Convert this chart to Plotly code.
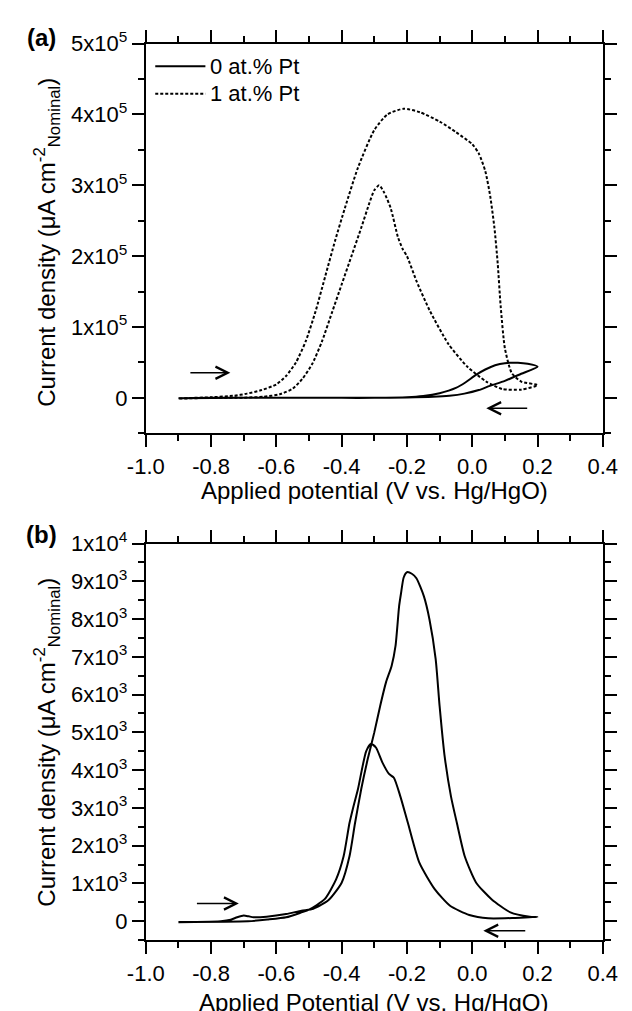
import plotly.graph_objects as go

# ---------------- Data ----------------
# Panel (a): 0 at.% Pt (solid) – one closed CV loop
a_pt0_v = [-0.9, -0.8, -0.6, -0.4, -0.3, -0.2, -0.15, -0.1, -0.05, -0.02, 0.01, 0.04, 0.07, 0.1, 0.14, 0.17, 0.2,
           0.15, 0.1, 0.054, 0.02, -0.024, -0.07, -0.12, -0.2, -0.3, -0.5, -0.7, -0.9]
a_pt0_j = [-500, 0, 0, 0, 0, 800, 2500, 6500, 14000, 22000, 32000, 40000, 46000, 49000, 49500, 48000, 44000,
           34000, 24000, 17000, 11000, 6000, 3000, 1400, 400, 0, 0, 0, -500]

# Panel (a): 1 at.% Pt (dotted) – forward + reverse scans
a_pt1_v = [-0.9, -0.85, -0.8, -0.73, -0.69, -0.645, -0.6, -0.57, -0.54, -0.51, -0.48, -0.45, -0.42, -0.39,
           -0.35, -0.3, -0.26, -0.21, -0.16, -0.1, -0.05, 0.0, 0.02, 0.04, 0.055, 0.068, 0.078, 0.087, 0.1,
           0.121, 0.15, 0.2,
           0.15, 0.092, 0.043, -0.015, -0.073, -0.13, -0.17, -0.2, -0.213, -0.227, -0.25, -0.27, -0.285,
           -0.3, -0.315, -0.34, -0.37, -0.4, -0.43, -0.46, -0.49, -0.52, -0.55, -0.59, -0.64, -0.7, -0.8, -0.9]
a_pt1_j = [-1000, 0, 800, 3000, 6000, 11000, 19000, 31000, 50000, 80000, 122000, 172000, 222000, 268000,
           325000, 378000, 400000, 408000, 403000, 390000, 375000, 358000, 345000, 320000, 285000, 240000,
           190000, 130000, 70000, 35000, 23000, 18000,
           11600, 12500, 23000, 44000, 76000, 123000, 164000, 200000, 210000, 226000, 268000, 290000, 300000,
           293000, 275000, 240000, 200000, 160000, 120000, 80000, 48000, 27000, 13000, 5000, 1500, 300, 0, -1000]

# Panel (b): single CV loop (forward then reverse)
b_v = [-0.9, -0.85, -0.77, -0.74, -0.72, -0.70, -0.685, -0.67, -0.63, -0.57, -0.523, -0.487, -0.44, -0.4,
       -0.376, -0.359, -0.34, -0.32, -0.30, -0.282, -0.264, -0.247, -0.235, -0.224, -0.218, -0.21, -0.2,
       -0.185, -0.171, -0.148, -0.131, -0.112, -0.1, -0.085, -0.065, -0.047, -0.023, 0.012, 0.059, 0.117,
       0.176, 0.2,
       0.131, 0.049, -0.009, -0.068, -0.115, -0.162, -0.197, -0.22, -0.24, -0.255, -0.275, -0.295, -0.31,
       -0.325, -0.35, -0.365, -0.376, -0.394, -0.417, -0.452, -0.5, -0.523, -0.57, -0.628, -0.687, -0.9]
b_j = [-25, -20, 0, 40, 105, 150, 130, 105, 120, 190, 280, 330, 560, 1020,
       1720, 2600, 3500, 4300, 5000, 5700, 6330, 6760, 7290, 8340, 8690, 9100, 9240,
       9200, 9080, 8600, 7990, 6940, 5700, 4400, 3300, 2600, 1720, 1020, 585, 236,
       122, 110,
       87, 79, 166, 410, 850, 1550, 2600, 3300, 3800, 3900, 4200, 4600, 4700,
       4500, 3500, 3000, 2600, 1720, 1110, 585, 305, 235, 105, 45, 0, -20]

x_ticks = [-1.0, -0.8, -0.6, -0.4, -0.2, 0.0, 0.2, 0.4]
x_ticktext = ["-1.0", "-0.8", "-0.6", "-0.4", "-0.2", "0.0", "0.2", "0.4"]
a_yticks = [0, 100000, 200000, 300000, 400000, 500000]
a_ytext = ["0", "1x10<sup>5</sup>", "2x10<sup>5</sup>", "3x10<sup>5</sup>", "4x10<sup>5</sup>", "5x10<sup>5</sup>"]
b_yticks = [0, 1000, 2000, 3000, 4000, 5000, 6000, 7000, 8000, 9000, 10000]
b_ytext = ["0", "1x10<sup>3</sup>", "2x10<sup>3</sup>", "3x10<sup>3</sup>", "4x10<sup>3</sup>",
           "5x10<sup>3</sup>", "6x10<sup>3</sup>", "7x10<sup>3</sup>", "8x10<sup>3</sup>",
           "9x10<sup>3</sup>", "1x10<sup>4</sup>"]

legend_names = ["0 at.% Pt", "1 at.% Pt"]

# ---------------- Figure ----------------
W, H = 632, 1011
FONT = "Liberation Sans, Arial, sans-serif"

fig = go.Figure()
fig.add_trace(go.Scatter(x=a_pt0_v, y=a_pt0_j, mode="lines",
                         line=dict(color="black", width=2, shape="spline", smoothing=0.6),
                         name=legend_names[0], xaxis="x", yaxis="y"))
fig.add_trace(go.Scatter(x=a_pt1_v, y=a_pt1_j, mode="lines",
                         line=dict(color="black", width=2, dash="3px,2px", shape="spline", smoothing=0.6),
                         name=legend_names[1], xaxis="x", yaxis="y"))
fig.add_trace(go.Scatter(x=b_v, y=b_j, mode="lines",
                         line=dict(color="black", width=2, shape="spline", smoothing=0.6),
                         xaxis="x2", yaxis="y2"))


def px_x(p):
    return p / W


def px_y(p):
    return 1 - p / H


xdom = [px_x(134), px_x(617)]
a_ydom = [px_y(424), px_y(28)]
b_ydom = [px_y(939), px_y(536)]

common_x = dict(range=[-1.0000001, 0.4000001], tickvals=x_ticks, ticktext=x_ticktext, showgrid=False,
                zeroline=False, showline=True, linecolor="black", linewidth=2, mirror="ticks",
                ticks="outside", ticklen=12, tickwidth=2, tickcolor="black", ticklabeloverflow="allow",
                minor=dict(dtick=0.1, tick0=-1.0, ticks="outside", ticklen=6, tickwidth=2, tickcolor="black",
                           showgrid=False),
                tickfont=dict(family=FONT, size=22, color="black"), domain=xdom)
common_y = dict(showgrid=False, zeroline=False, showline=True, linecolor="black", linewidth=2,
                mirror="ticks", ticks="outside", ticklen=12, tickwidth=2, tickcolor="black",
                ticklabeloverflow="allow",
                tickfont=dict(family=FONT, size=22, color="black"))

fig.update_layout(
    width=W, height=H, margin=dict(l=0, r=0, t=0, b=0),
    paper_bgcolor="white", plot_bgcolor="white", showlegend=False,
    font=dict(family=FONT, color="black"),
    xaxis=dict(**common_x, anchor="y"),
    yaxis=dict(**common_y, range=[-50000, 500000], tickvals=a_yticks, ticktext=a_ytext, domain=a_ydom,
               anchor="x",
               minor=dict(dtick=50000, tick0=0, ticks="outside", ticklen=6, tickwidth=2, tickcolor="black",
                          showgrid=False)),
    xaxis2=dict(**common_x, anchor="y2"),
    yaxis2=dict(**common_y, range=[-500, 10000], tickvals=b_yticks, ticktext=b_ytext, domain=b_ydom,
                anchor="x2",
                minor=dict(dtick=500, tick0=0, ticks="outside", ticklen=6, tickwidth=2, tickcolor="black",
                           showgrid=False)),
)

# Axis titles as annotations
ytitle = "Current density (\u03bcA cm<sup>-2</sup><sub>Nominal</sub>)"
fig.add_annotation(text=ytitle, xref="paper", yref="paper", x=px_x(30), y=px_y(230), textangle=-90,
                   showarrow=False, font=dict(family=FONT, size=24), xanchor="center", yanchor="middle")
fig.add_annotation(text=ytitle, xref="paper", yref="paper", x=px_x(30), y=px_y(738), textangle=-90,
                   showarrow=False, font=dict(family=FONT, size=24), xanchor="center", yanchor="middle")
fig.add_annotation(text="Applied potential (V vs. Hg/HgO)", xref="x domain", yref="paper", x=0.5,
                   y=px_y(482), showarrow=False, font=dict(family=FONT, size=24), yanchor="middle")
fig.add_annotation(text="Applied Potential (V vs. Hg/HgO)", xref="x2 domain", yref="paper", x=0.5,
                   y=px_y(1002), showarrow=False, font=dict(family=FONT, size=24), yanchor="middle")

# Panel labels
fig.add_annotation(text="<b>(a)</b>", xref="paper", yref="paper", x=px_x(24), y=px_y(22), showarrow=False,
                   font=dict(family=FONT, size=24), xanchor="center", yanchor="middle")
fig.add_annotation(text="<b>(b)</b>", xref="paper", yref="paper", x=px_x(24), y=px_y(527), showarrow=False,
                   font=dict(family=FONT, size=24), xanchor="center", yanchor="middle")

# Legend (drawn manually)
fig.add_shape(type="line", xref="paper", yref="paper", x0=px_x(144), x1=px_x(197), y0=px_y(51), y1=px_y(51),
              line=dict(color="black", width=2))
fig.add_shape(type="line", xref="paper", yref="paper", x0=px_x(144), x1=px_x(197), y0=px_y(79), y1=px_y(79),
              line=dict(color="black", width=2, dash="3px,2px"))
for name, yy in zip(legend_names, [51, 79]):
    fig.add_annotation(text=name, xref="paper", yref="paper", x=px_x(200), y=px_y(yy), showarrow=False,
                       xanchor="left", yanchor="middle", font=dict(family=FONT, size=22))

# Scan-direction arrows
arrows = [
    ("x", "y", -0.868, 35500, -0.741, 35500),
    ("x", "y", 0.173, -14700, 0.043, -14700),
    ("x2", "y2", -0.848, 470, -0.715, 470),
    ("x2", "y2", 0.167, -253, 0.034, -253),
]
for xr, yr, x0, y0, x1, y1 in arrows:
    fig.add_annotation(x=x1, y=y1, ax=x0, ay=y0, xref=xr, yref=yr, axref=xr, ayref=yr, text="",
                       showarrow=True, arrowhead=5, arrowsize=1.6, arrowwidth=1.5, arrowcolor="black")

fig.write_html("out.html")
